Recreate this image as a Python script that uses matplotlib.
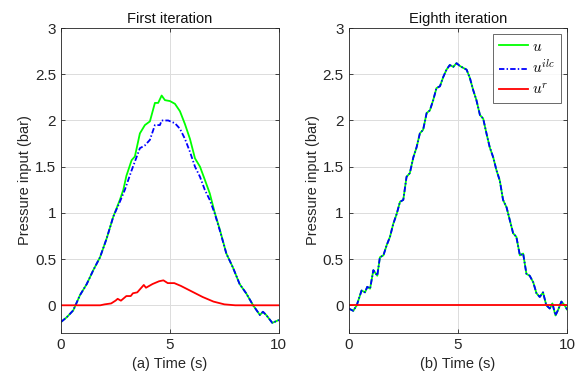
import matplotlib
matplotlib.use("Agg")
import matplotlib.pyplot as plt

plt.rcParams["font.family"] = ["Liberation Sans", "DejaVu Sans"]
plt.rcParams["mathtext.fontset"] = "cm"

# first iteration (left panel)
t1_u = [0, 0.26, 0.56, 0.87, 1.18, 1.48, 1.79, 2.09, 2.4, 2.7, 2.86, 3.0, 3.24,
        3.39, 3.62, 3.85, 4.08, 4.31, 4.46, 4.62, 4.77, 5.0, 5.23, 5.46, 5.69,
        5.92, 6.15, 6.38, 6.6, 6.83, 7.06, 7.29, 7.59, 7.89, 8.2, 8.5, 8.82, 9.13,
        9.27, 9.42, 9.7, 10]
u1 = [-0.18, -0.13, -0.055, 0.11, 0.23, 0.38, 0.52, 0.72, 0.96, 1.14, 1.25, 1.4,
      1.57, 1.61, 1.86, 1.95, 1.99, 2.19, 2.19, 2.27, 2.22, 2.21, 2.18, 2.1, 1.96,
      1.8, 1.59, 1.5, 1.36, 1.21, 1.0, 0.82, 0.56, 0.41, 0.23, 0.13, 0.0, -0.105,
      -0.07, -0.105, -0.19, -0.16]
t1_ilc = [0, 0.26, 0.56, 0.87, 1.18, 1.48, 1.79, 2.09, 2.4, 2.7, 2.93, 3.24, 3.62,
          3.85, 4.08, 4.31, 4.54, 4.62, 4.92, 5.23, 5.46, 5.69, 5.92, 6.15, 6.38,
          6.6, 6.83, 7.06, 7.29, 7.59, 7.89, 8.2, 8.5, 8.82, 9.13, 9.27, 9.42, 9.7,
          10]
u1_ilc = [-0.18, -0.13, -0.055, 0.11, 0.23, 0.38, 0.52, 0.72, 0.96, 1.12, 1.25,
          1.46, 1.7, 1.73, 1.79, 1.95, 1.95, 2.0, 2.0, 1.97, 1.91, 1.8, 1.66, 1.5,
          1.39, 1.25, 1.14, 0.99, 0.81, 0.56, 0.41, 0.23, 0.13, 0.0, -0.105, -0.07,
          -0.105, -0.19, -0.16]
t1_r = [0, 1.8, 2.0, 2.3, 2.5, 2.6, 2.75, 3.0, 3.2, 3.3, 3.5, 3.8, 3.9, 4.2, 4.5,
        4.7, 4.9, 5.2, 5.5, 6.0, 6.5, 7.0, 7.5, 8.0, 10]
r1 = [0, 0, 0.01, 0.02, 0.05, 0.07, 0.05, 0.1, 0.1, 0.13, 0.14, 0.22, 0.19, 0.23,
      0.26, 0.27, 0.24, 0.24, 0.21, 0.15, 0.09, 0.04, 0.01, 0.0, 0.0]

# eighth iteration (right panel)
t8 = [0, 0.21, 0.37, 0.59, 0.75, 0.85, 0.98, 1.13, 1.31, 1.43, 1.59, 1.74, 1.89,
      2.04, 2.2, 2.35, 2.5, 2.65, 2.8, 2.96, 3.11, 3.26, 3.41, 3.57, 3.72, 3.87,
      4.02, 4.18, 4.33, 4.48, 4.63, 4.79, 4.94, 5.09, 5.24, 5.4, 5.55, 5.7, 5.85,
      6.01, 6.16, 6.31, 6.46, 6.62, 6.77, 6.92, 7.07, 7.23, 7.38, 7.53, 7.68, 7.84,
      7.99, 8.14, 8.29, 8.45, 8.6, 8.75, 8.9, 9.05, 9.21, 9.33, 9.47, 9.59, 9.74,
      9.89, 10]
u8 = [-0.035, -0.06, 0, 0.16, 0.14, 0.2, 0.18, 0.38, 0.32, 0.52, 0.54, 0.65, 0.74,
      0.88, 0.99, 1.12, 1.14, 1.39, 1.43, 1.6, 1.71, 1.86, 1.9, 2.08, 2.11, 2.22,
      2.35, 2.37, 2.47, 2.55, 2.6, 2.58, 2.62, 2.59, 2.57, 2.55, 2.46, 2.33, 2.22,
      2.06, 2.02, 1.86, 1.71, 1.6, 1.46, 1.35, 1.14, 1.06, 0.92, 0.78, 0.74, 0.54,
      0.56, 0.34, 0.32, 0.25, 0.13, 0.09, 0.14, 0, -0.035, 0.02, -0.11, -0.05, 0.04,
      0, -0.045]
t8_r = [0, 10]
r8 = [0, 0]

yticks = [0, 0.5, 1, 1.5, 2, 2.5, 3]
ytick_labels = ["0", "0.5", "1", "1.5", "2", "2.5", "3"]
xticks = [0, 5, 10]

DASHDOT = (3, 1.2, 0.8, 1.2)

fig = plt.figure(figsize=(5.87, 3.87), dpi=100)
ax1 = fig.add_axes([0.104, 0.1395, 0.371, 0.788])
ax2 = fig.add_axes([0.594, 0.1395, 0.372, 0.788])

ax1.plot(t1_u, u1, color="#00ff00", lw=1.3, label="$u$")
ax1.plot(t1_ilc, u1_ilc, color="#0000ff", lw=1.3, dashes=DASHDOT, label="$u^{ilc}$")
ax1.plot(t1_r, r1, color="#ff0000", lw=1.3, label="$u^r$")

ax2.plot(t8, u8, color="#00ff00", lw=1.3, label="$u$")
ax2.plot(t8, u8, color="#0000ff", lw=1.3, dashes=DASHDOT, label="$u^{ilc}$")
ax2.plot(t8_r, r8, color="#ff0000", lw=1.3, label="$u^r$")

for ax, title, xl in [(ax1, "First iteration", "(a) Time (s)"),
                      (ax2, "Eighth iteration", "(b) Time (s)")]:
    ax.set_xlim(0, 10)
    ax.set_ylim(-0.3, 3)
    ax.set_xticks(xticks)
    ax.set_yticks(yticks)
    ax.set_yticklabels(ytick_labels)
    ax.grid(True, color="#dcdcdc", lw=0.7)
    ax.set_axisbelow(True)
    ax.tick_params(direction="in", top=True, right=True, length=3,
                   labelsize=11, colors="#262626", width=0.6)
    for s in ax.spines.values():
        s.set_color("#262626")
        s.set_linewidth(0.6)
    ax.set_title(title, fontsize=10.5, pad=4, color="#111111")
    ax.set_xlabel(xl, fontsize=10.5, color="#262626", labelpad=4)
    ax.set_ylabel("Pressure input (bar)", fontsize=10.5, color="#262626", labelpad=2)

leg = ax2.legend(loc="upper right", fontsize=11, frameon=True, fancybox=False,
                 edgecolor="#262626", borderaxespad=0.4, handlelength=1.9,
                 handletextpad=0.3, labelspacing=0.35, borderpad=0.35)
leg.get_frame().set_linewidth(0.6)

fig.savefig("out.png", dpi=100)
